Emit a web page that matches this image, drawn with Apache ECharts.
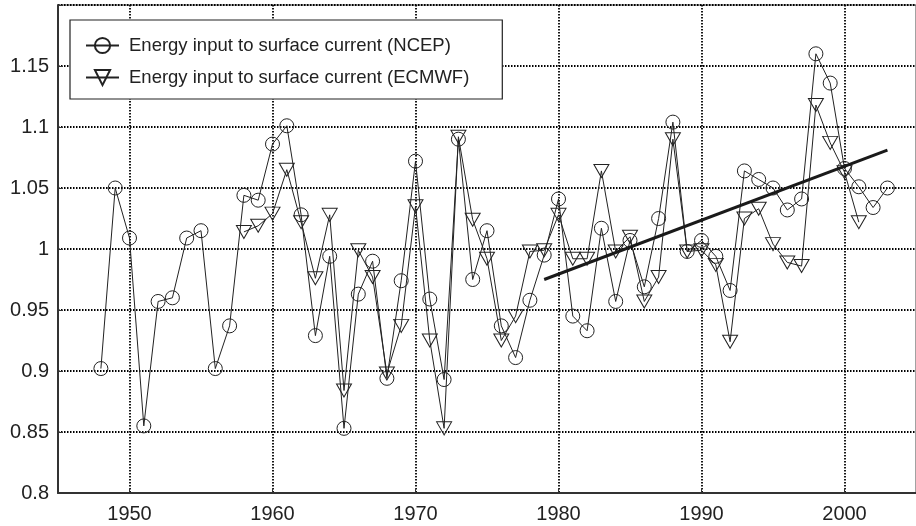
<!DOCTYPE html>
<html>
<head>
<meta charset="utf-8">
<script src="https://cdn.jsdelivr.net/npm/echarts@6/dist/echarts.min.js"></script>
<style>
  html, body { margin: 0; padding: 0; background: #fff; }
  #chart { width: 916px; height: 526px; }
</style>
</head>
<body>
<div id="chart"></div>
<script>
// NCEP series, 1948-2003
var ncepYears = [1948, 1949, 1950, 1951, 1952, 1953, 1954, 1955, 1956, 1957,
  1958, 1959, 1960, 1961, 1962, 1963, 1964, 1965, 1966, 1967,
  1968, 1969, 1970, 1971, 1972, 1973, 1974, 1975, 1976, 1977,
  1978, 1979, 1980, 1981, 1982, 1983, 1984, 1985, 1986, 1987,
  1988, 1989, 1990, 1991, 1992, 1993, 1994, 1995, 1996, 1997,
  1998, 1999, 2000, 2001, 2002, 2003];
var ncepValues = [0.902, 1.050, 1.009, 0.855, 0.957, 0.960, 1.009, 1.015, 0.902, 0.937,
  1.044, 1.040, 1.086, 1.101, 1.028, 0.929, 0.994, 0.853, 0.963, 0.990,
  0.894, 0.974, 1.072, 0.959, 0.893, 1.090, 0.975, 1.015, 0.937, 0.911,
  0.958, 0.995, 1.041, 0.945, 0.933, 1.017, 0.957, 1.007, 0.969, 1.025,
  1.104, 0.998, 1.007, 0.994, 0.966, 1.064, 1.057, 1.050, 1.032, 1.041,
  1.160, 1.136, 1.066, 1.051, 1.034, 1.050];

// ECMWF series, 1958-2001
var ecmwfYears = [1958, 1959, 1960, 1961, 1962, 1963, 1964, 1965, 1966, 1967,
  1968, 1969, 1970, 1971, 1972, 1973, 1974, 1975, 1976, 1977,
  1978, 1979, 1980, 1981, 1982, 1983, 1984, 1985, 1986, 1987,
  1988, 1989, 1990, 1991, 1992, 1993, 1994, 1995, 1996, 1997,
  1998, 1999, 2000, 2001];
var ecmwfValues = [1.014, 1.019, 1.029, 1.065, 1.022, 0.976, 1.028, 0.884, 0.999, 0.977,
  0.898, 0.937, 1.035, 0.925, 0.853, 1.092, 1.024, 0.992, 0.925, 0.945,
  0.998, 0.999, 1.028, 0.992, 0.992, 1.064, 0.998, 1.010, 0.957, 0.977,
  1.090, 0.998, 0.999, 0.987, 0.924, 1.025, 1.033, 1.004, 0.989, 0.986,
  1.118, 1.087, 1.063, 1.022];

// linear trend 1979-2003
var trendYears = [1979, 2003];
var trendValues = [0.975, 1.081];

var xTicks = [1950, 1960, 1970, 1980, 1990, 2000];

function pairs(xs, ys) {
  return xs.map(function (x, i) { return [x, ys[i]]; });
}

var font = "Liberation Sans, Arial, Helvetica, sans-serif";
var chart = echarts.init(document.getElementById("chart"));

var dotted = { color: "#000", width: 1.8, type: [1.5, 1.5] };

var option = {
  backgroundColor: "#fff",
  animation: false,
  textStyle: { fontFamily: font },
  grid: {
    left: 58,
    top: 5,
    right: -9,
    bottom: 33,
    show: true,
    borderColor: "#444",
    borderWidth: 1
  },
  legend: {
    orient: "vertical",
    left: 70,
    top: 20,
    padding: [16, 33, 12, 15],
    itemGap: 13,
    itemWidth: 33,
    itemHeight: 19,
    borderColor: "#222",
    borderWidth: 1.2,
    backgroundColor: "#fff",
    textStyle: { fontSize: 18.5, color: "#222", fontFamily: font, padding: [0, 0, 0, 5] },
    data: ["Energy input to surface current (NCEP)", "Energy input to surface current (ECMWF)"]
  },
  xAxis: {
    type: "value",
    min: 1945,
    max: 2005,
    axisLine: { show: true, lineStyle: { color: "#333", width: 2 } },
    axisTick: {
      show: true,
      inside: true,
      length: 5,
      customValues: xTicks,
      lineStyle: { color: "#333", width: 1 }
    },
    axisLabel: {
      customValues: xTicks,
      fontSize: 20,
      color: "#222",
      margin: 11,
      fontFamily: font,
      formatter: function (v) { return String(v); }
    },
    splitLine: { show: true, lineStyle: dotted }
  },
  yAxis: {
    type: "value",
    min: 0.8,
    max: 1.2,
    interval: 0.05,
    axisLine: { show: true, lineStyle: { color: "#333", width: 2 } },
    axisTick: { show: true, inside: true, length: 5, lineStyle: { color: "#333" } },
    axisLabel: {
      fontSize: 20,
      color: "#222",
      margin: 9,
      fontFamily: font,
      formatter: function (v) {
        if (v > 1.18) return "";
        return String(+v.toFixed(2));
      }
    },
    splitLine: { show: true, lineStyle: dotted }
  },
  series: [
    {
      name: "Energy input to surface current (NCEP)",
      type: "line",
      data: pairs(ncepYears, ncepValues),
      symbol: "circle",
      symbolSize: 14,
      showAllSymbol: true,
      lineStyle: { color: "#222", width: 1 },
      itemStyle: { color: "rgba(0,0,0,0)", borderColor: "#222", borderWidth: 1 },
      z: 3
    },
    {
      name: "Energy input to surface current (ECMWF)",
      type: "line",
      data: pairs(ecmwfYears, ecmwfValues),
      symbol: "triangle",
      symbolRotate: 180,
      symbolSize: [15, 13],
      showAllSymbol: true,
      lineStyle: { color: "#222", width: 1 },
      itemStyle: { color: "rgba(0,0,0,0)", borderColor: "#222", borderWidth: 1 },
      z: 3
    },
    {
      name: "trend",
      type: "line",
      data: pairs(trendYears, trendValues),
      symbol: "none",
      lineStyle: { color: "#1a1a1a", width: 3 },
      z: 4
    }
  ]
};

chart.setOption(option);
</script>
</body>
</html>
